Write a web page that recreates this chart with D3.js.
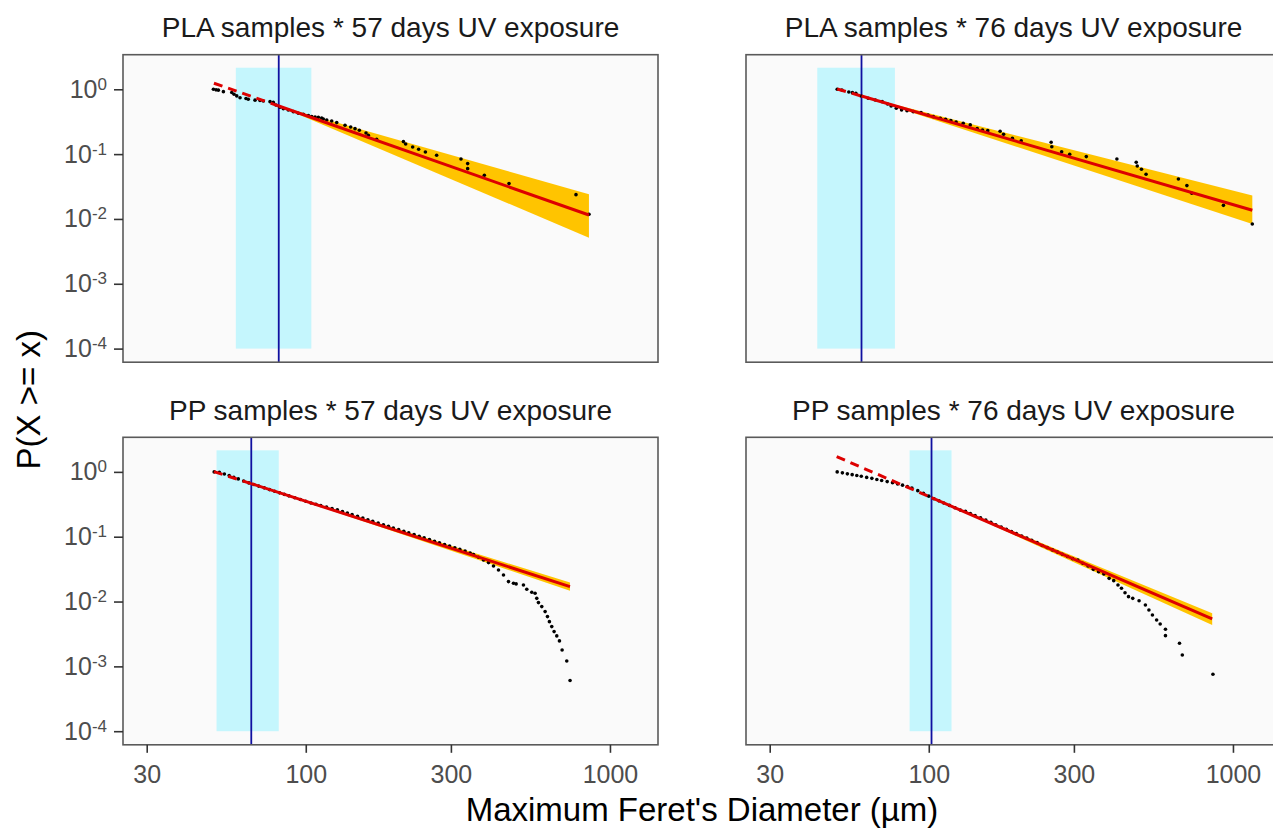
<!DOCTYPE html>
<html>
<head>
<meta charset="utf-8">
<script src="https://cdn.jsdelivr.net/npm/d3@7"></script>
<style>
  body { margin: 0; background: #fff; }
  svg text { font-family: "Liberation Sans", Arial, sans-serif; }
</style>
</head>
<body>
<svg id="chart" width="1273" height="830"></svg>
<script>
// facet titles
const titles = [
  'PLA samples * 57 days UV exposure',
  'PLA samples * 76 days UV exposure',
  'PP samples * 57 days UV exposure',
  'PP samples * 76 days UV exposure'
];

const xTicks = [30, 100, 300, 1000];
const yTicks = [1, 0.1, 0.01, 0.001, 0.0001];
const yTickExp = ['0', '-1', '-2', '-3', '-4'];

// estimated xmin (vertical line) and its uncertainty range (shaded box)
const xminValues = [81.5, 60.1, 66.2, 102.1];
const xminLow = [58.9, 43, 50.9, 86.5];
const xminHigh = [104.3, 77.4, 81.5, 118.8];
const boxTop = 2.15;
const boxBottom = 0.0001;

// fitted power law: start, xmin, end
const fitX = [[49.9, 81.5, 853], [50, 60.1, 1158], [49.9, 66.2, 739], [49.8, 102.1, 854.6]];
const fitY = [[1.24, 0.552, 0.0115], [1.01, 0.786, 0.0136], [1.01, 0.658, 0.017], [1.72, 0.4006, 0.0054]];

// confidence band from xmin to the largest particle
const ciLow = [[0.552, 0.00515], [0.786, 0.00837], [0.658, 0.0147], [0.4006, 0.00436]];
const ciHigh = [[0.552, 0.024], [0.786, 0.0229], [0.658, 0.0196], [0.4006, 0.00659]];

// empirical CCDF points
const pla57X = [49.7, 50.7, 51.6, 53.6, 57.1, 58.1, 59.3, 60.8, 63.6, 64.7, 68.1, 70.7, 72.5, 76.3, 78.2, 79.8, 82.3, 84.4, 87.6, 91.0,
  94.5, 98.2, 102, 104.6, 107.3, 110, 112.8, 114.2, 117.2, 121.7, 126.4, 134.6, 140.5, 145.2, 150, 157.8, 160.6, 171, 209.4, 213,
  224.6, 235, 247.3, 269.3, 323.8, 340.6, 340.6, 386.4, 465.8, 773.3, 853.4];
const pla57Y = [1.0, 0.98, 0.97, 0.92, 0.89, 0.84, 0.79, 0.74, 0.72, 0.70, 0.68, 0.67, 0.66, 0.645, 0.63, 0.573, 0.527, 0.503, 0.48, 0.452,
  0.426, 0.411, 0.392, 0.378, 0.374, 0.37, 0.361, 0.348, 0.336, 0.324, 0.306, 0.278, 0.262, 0.247, 0.233, 0.212, 0.195, 0.169, 0.156, 0.143,
  0.129, 0.119, 0.108, 0.0959, 0.0842, 0.0714, 0.0597, 0.0471, 0.0351, 0.0237, 0.0118];

const pla76X = [50.0, 51.8, 54.6, 56.1, 57.6, 59.9, 63.2, 66.7, 70.3, 73.2, 75.2, 78.2, 81.4, 84.8, 88.9, 94.3, 99.4, 103.5, 109.1, 113.6,
  118.2, 123, 129.8, 136.9, 144.3, 150.2, 156.3, 171.6, 176.2, 188.3, 201.3, 252.5, 253.8, 273.4, 290.6, 329.5, 415.4, 480.8, 484.6, 500.4,
  518, 661.7, 705.6, 732.2, 930.5, 1157.7];
const pla76Y = [1.0, 0.975, 0.909, 0.887, 0.867, 0.788, 0.726, 0.684, 0.645, 0.593, 0.553, 0.509, 0.48, 0.468, 0.452, 0.436, 0.402, 0.378, 0.357, 0.344,
  0.328, 0.313, 0.299, 0.282, 0.247, 0.236, 0.23, 0.225, 0.202, 0.175, 0.161, 0.152, 0.13, 0.109, 0.0994, 0.0915, 0.0842, 0.0748, 0.0657, 0.0583,
  0.0489, 0.0414, 0.0327, 0.0249, 0.0162, 0.00837];

const pp57X = [50, 52, 54, 56, 58, 60, 62.5, 65, 67.5, 70, 73, 76, 79, 82, 85, 88, 92, 96, 100, 104,
  108, 112, 117, 122, 127, 132, 137, 142, 148, 154, 160, 166, 173, 180, 187, 194, 202, 210, 218, 227,
  236, 245, 255, 265, 275, 286, 297, 309, 321, 334, 347, 356, 369.8, 384, 398.8, 414.2, 430.1, 446.7, 463.9, 481.7,
  491.5, 519.5, 532.8, 553.3, 567.4, 574.6, 582, 596.8, 612.1, 623.1, 632.4, 643.7, 655.2, 668.6, 682.2, 696.1, 721.1, 739.3];
const pp57Y = [1.0, 0.981, 0.926, 0.876, 0.822, 0.780, 0.725, 0.676, 0.638, 0.604, 0.567, 0.533, 0.503, 0.475, 0.45, 0.427, 0.399, 0.374, 0.352, 0.332,
  0.317, 0.303, 0.287, 0.2725, 0.2595, 0.2446, 0.2312, 0.2191, 0.2057, 0.1938, 0.1829, 0.1729, 0.1625, 0.153, 0.1444, 0.1366, 0.1284, 0.1211, 0.1144, 0.1077,
  0.1015, 0.0959, 0.0903, 0.0852, 0.0805, 0.0759, 0.0716, 0.0675, 0.0637, 0.06, 0.056, 0.0532, 0.0482, 0.0438, 0.0399, 0.0354, 0.0307, 0.0257, 0.0203, 0.0191,
  0.0187, 0.018, 0.0155, 0.0139, 0.0134, 0.0112, 0.00963, 0.00835, 0.007, 0.00586, 0.0049, 0.00411, 0.00344, 0.00295, 0.00247, 0.00179, 0.00121, 0.000604];

const pp76X = [50, 52, 54, 56, 58, 60, 62.5, 65, 67.5, 70, 73, 76, 79, 82, 85, 88, 92, 96, 100, 104,
  108, 112, 117, 122, 127, 132, 137, 142, 148, 154, 160, 166, 173, 180, 187, 194, 202, 210, 218, 227,
  236, 245, 255, 265, 275, 286, 297, 309, 320.8, 334, 347.5, 361.6, 376.3, 391.7, 405.5, 418.8, 430.1, 441.7, 453.6, 468.3,
  491.3, 515.4, 529.3, 543.6, 561.2, 576.4, 600, 600, 667.2, 681.6, 859.4];
const pp76Y = [1.0, 0.966, 0.933, 0.906, 0.879, 0.855, 0.822, 0.794, 0.764, 0.738, 0.708, 0.682, 0.653, 0.624, 0.596, 0.562, 0.513, 0.468, 0.422, 0.386,
  0.3574, 0.332, 0.3039, 0.2791, 0.2573, 0.2461, 0.2284, 0.2123, 0.1952, 0.1801, 0.1667, 0.153, 0.1407, 0.1298, 0.1201, 0.1115, 0.1027, 0.095, 0.088, 0.0811,
  0.0732, 0.0679, 0.0626, 0.0579, 0.0537, 0.0496, 0.0459, 0.0435, 0.0389, 0.0354, 0.0314, 0.0289, 0.0266, 0.0228, 0.021, 0.018, 0.016, 0.0137, 0.0119, 0.0112,
  0.0103, 0.00886, 0.00742, 0.00621, 0.0052, 0.00451, 0.00374, 0.00298, 0.00227, 0.0015, 0.000755];

const pointsX = [pla57X, pla76X, pp57X, pp76X];
const pointsY = [pla57Y, pla76Y, pp57Y, pp76Y];

// layout
const panelW = 535, panelH = 307.5;
const panelLeft = [123, 746];
const panelTop = [54.7, 437.3];
const xDomain = [25.07, 1438.6];
const yDomain = [6.17e-5, 3.415];

const svg = d3.select('#chart');

const x = d3.scaleLog().domain(xDomain).range([0, panelW]);
const y = d3.scaleLog().domain(yDomain).range([panelH, 0]);

titles.forEach((title, i) => {
  const col = i % 2, row = Math.floor(i / 2);
  const g = svg.append('g')
    .attr('transform', `translate(${panelLeft[col]},${panelTop[row]})`);

  g.append('rect')
    .attr('width', panelW).attr('height', panelH)
    .attr('fill', '#fafafa');

  // xmin uncertainty box
  g.append('rect')
    .attr('x', x(xminLow[i]))
    .attr('y', y(boxTop))
    .attr('width', x(xminHigh[i]) - x(xminLow[i]))
    .attr('height', y(boxBottom) - y(boxTop))
    .attr('fill', '#c5f6fd');

  // confidence ribbon
  const band = [0, 1].map(k => ({ x: k === 0 ? fitX[i][1] : fitX[i][2], lo: ciLow[i][k], hi: ciHigh[i][k] }));
  g.append('path')
    .datum(band)
    .attr('d', d3.area().x(d => x(d.x)).y0(d => y(d.lo)).y1(d => y(d.hi)))
    .attr('fill', '#ffc400');

  // xmin line
  g.append('line')
    .attr('x1', x(xminValues[i])).attr('x2', x(xminValues[i]))
    .attr('y1', 0).attr('y2', panelH)
    .attr('stroke', '#1010a0')
    .attr('stroke-width', 1.8);

  // points
  g.selectAll('circle')
    .data(pointsX[i].map((v, k) => ({ x: v, y: pointsY[i][k] })))
    .enter()
    .append('circle')
    .attr('cx', d => x(d.x))
    .attr('cy', d => y(d.y))
    .attr('r', 1.8)
    .attr('fill', '#000');

  // fit line: dashed below xmin, solid above
  const fit = fitX[i].map((v, k) => ({ x: v, y: fitY[i][k] }));
  const line = d3.line().x(d => x(d.x)).y(d => y(d.y));
  g.append('path')
    .attr('d', line(fit.slice(0, 2)))
    .attr('fill', 'none')
    .attr('stroke', '#dd0000')
    .attr('stroke-width', 3)
    .attr('stroke-dasharray', '9,6');
  g.append('path')
    .attr('d', line(fit.slice(1)))
    .attr('fill', 'none')
    .attr('stroke', '#dd0000')
    .attr('stroke-width', 3);

  g.append('rect')
    .attr('width', panelW).attr('height', panelH)
    .attr('fill', 'none')
    .attr('stroke', '#5a5a5a')
    .attr('stroke-width', 1.6);

  g.append('text')
    .attr('x', panelW / 2)
    .attr('y', -17.7)
    .attr('text-anchor', 'middle')
    .attr('font-size', 28)
    .attr('fill', '#1a1a1a')
    .text(title);

  if (col === 0) {
    const ya = g.append('g')
      .call(d3.axisLeft(y).tickValues(yTicks).tickSize(9).tickPadding(7).tickFormat(''));
    ya.select('.domain').remove();
    ya.selectAll('.tick line').attr('stroke', '#333').attr('stroke-width', 1.6);
    ya.selectAll('.tick text')
      .attr('font-size', 25)
      .attr('fill', '#4d4d4d')
      .each(function (d, k) {
        const t = d3.select(this);
        t.append('tspan').text('10');
        t.append('tspan').attr('dy', -8).attr('font-size', 17).text(yTickExp[k]);
      });
  }

  if (row === 1) {
    const xa = g.append('g')
      .attr('transform', `translate(0,${panelH})`)
      .call(d3.axisBottom(x).tickValues(xTicks).tickSize(8).tickPadding(12).tickFormat(d3.format('d')));
    xa.select('.domain').remove();
    xa.selectAll('.tick line').attr('stroke', '#333').attr('stroke-width', 1.6);
    xa.selectAll('.tick text').attr('font-size', 25).attr('fill', '#4d4d4d');
  }
});

svg.append('text')
  .attr('x', 702)
  .attr('y', 821)
  .attr('text-anchor', 'middle')
  .attr('font-size', 33)
  .attr('fill', '#000')
  .text("Maximum Feret's Diameter (\u00b5m)");

svg.append('text')
  .attr('transform', 'translate(40,399.7) rotate(-90)')
  .attr('text-anchor', 'middle')
  .attr('font-size', 33)
  .attr('fill', '#000')
  .text('P(X >= x)');
</script>
</body>
</html>
